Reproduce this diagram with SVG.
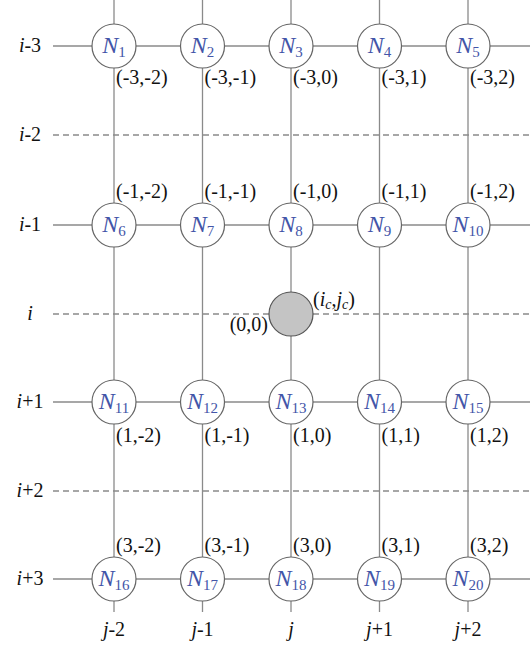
<svg xmlns="http://www.w3.org/2000/svg" width="530" height="650" viewBox="0 0 530 650" font-family="'Liberation Serif', 'Times New Roman', serif">
<style>
.ln{stroke:#8a8a8a;stroke-width:1.3;fill:none}
.dl{stroke:#8a8a8a;stroke-width:1.3;fill:none;stroke-dasharray:6 4}
.nd{fill:#fff;stroke:#666;stroke-width:1.2}
text{font-family:'Liberation Serif','Times New Roman',serif}
.nt{font-size:24px;fill:#4355a8;text-anchor:middle}
.s{font-size:15px;font-style:normal}
.cl{font-size:20px;fill:#111}
.rl{font-size:20px;fill:#111;text-anchor:middle}
.it{font-style:italic}
</style>
<rect width="530" height="650" fill="#fff"/>
<g id="connectors">
<line class="ln" x1="114" y1="0" x2="114" y2="612"/>
<line class="ln" x1="202.5" y1="0" x2="202.5" y2="612"/>
<line class="ln" x1="291" y1="0" x2="291" y2="612"/>
<line class="ln" x1="379.5" y1="0" x2="379.5" y2="612"/>
<line class="ln" x1="468" y1="0" x2="468" y2="612"/>
<line class="ln" x1="53" y1="46" x2="530" y2="46"/>
<line class="ln" x1="53" y1="225" x2="530" y2="225"/>
<line class="ln" x1="53" y1="402" x2="530" y2="402"/>
<line class="ln" x1="53" y1="579" x2="530" y2="579"/>
<line class="dl" x1="53" y1="135" x2="530" y2="135"/>
<line class="dl" x1="53" y1="314" x2="530" y2="314"/>
<line class="dl" x1="53" y1="491" x2="530" y2="491"/>
</g>
<g id="row-labels">
<text class="rl" x="30" y="52"><tspan class="it">i</tspan>-3</text>
<text class="rl" x="30" y="141"><tspan class="it">i</tspan>-2</text>
<text class="rl" x="30" y="231"><tspan class="it">i</tspan>-1</text>
<text class="rl" x="30" y="320"><tspan class="it">i</tspan></text>
<text class="rl" x="30" y="408"><tspan class="it">i</tspan>+1</text>
<text class="rl" x="30" y="497"><tspan class="it">i</tspan>+2</text>
<text class="rl" x="30" y="585"><tspan class="it">i</tspan>+3</text>
</g>
<g id="col-labels">
<text class="rl" x="114" y="636"><tspan class="it">j</tspan>-2</text>
<text class="rl" x="202.5" y="636"><tspan class="it">j</tspan>-1</text>
<text class="rl" x="291" y="636"><tspan class="it">j</tspan></text>
<text class="rl" x="379.5" y="636"><tspan class="it">j</tspan>+1</text>
<text class="rl" x="468" y="636"><tspan class="it">j</tspan>+2</text>
</g>
<g id="N1"><circle class="nd" cx="114" cy="46" r="22"/><text class="nt" x="114" y="53"><tspan class="it">N</tspan><tspan class="s" dy="4">1</tspan></text><text class="cl" x="116" y="84">(-3,-2)</text></g>
<g id="N2"><circle class="nd" cx="202.5" cy="46" r="22"/><text class="nt" x="202.5" y="53"><tspan class="it">N</tspan><tspan class="s" dy="4">2</tspan></text><text class="cl" x="204.5" y="84">(-3,-1)</text></g>
<g id="N3"><circle class="nd" cx="291" cy="46" r="22"/><text class="nt" x="291" y="53"><tspan class="it">N</tspan><tspan class="s" dy="4">3</tspan></text><text class="cl" x="293" y="84">(-3,0)</text></g>
<g id="N4"><circle class="nd" cx="379.5" cy="46" r="22"/><text class="nt" x="379.5" y="53"><tspan class="it">N</tspan><tspan class="s" dy="4">4</tspan></text><text class="cl" x="381.5" y="84">(-3,1)</text></g>
<g id="N5"><circle class="nd" cx="468" cy="46" r="22"/><text class="nt" x="468" y="53"><tspan class="it">N</tspan><tspan class="s" dy="4">5</tspan></text><text class="cl" x="470" y="84">(-3,2)</text></g>
<g id="N6"><circle class="nd" cx="114" cy="225" r="22"/><text class="nt" x="114" y="232"><tspan class="it">N</tspan><tspan class="s" dy="4">6</tspan></text><text class="cl" x="116" y="198">(-1,-2)</text></g>
<g id="N7"><circle class="nd" cx="202.5" cy="225" r="22"/><text class="nt" x="202.5" y="232"><tspan class="it">N</tspan><tspan class="s" dy="4">7</tspan></text><text class="cl" x="204.5" y="198">(-1,-1)</text></g>
<g id="N8"><circle class="nd" cx="291" cy="225" r="22"/><text class="nt" x="291" y="232"><tspan class="it">N</tspan><tspan class="s" dy="4">8</tspan></text><text class="cl" x="293" y="198">(-1,0)</text></g>
<g id="N9"><circle class="nd" cx="379.5" cy="225" r="22"/><text class="nt" x="379.5" y="232"><tspan class="it">N</tspan><tspan class="s" dy="4">9</tspan></text><text class="cl" x="381.5" y="198">(-1,1)</text></g>
<g id="N10"><circle class="nd" cx="468" cy="225" r="22"/><text class="nt" x="468" y="232"><tspan class="it">N</tspan><tspan class="s" dy="4">10</tspan></text><text class="cl" x="470" y="198">(-1,2)</text></g>
<g id="center"><circle cx="291" cy="314" r="22" fill="#c4c4c4" stroke="#555" stroke-width="1.2"/><text class="cl" x="268" y="331" text-anchor="end">(0,0)</text><text class="cl" x="313" y="306">(<tspan class="it">i</tspan><tspan class="it" font-size="14" dy="3">c</tspan><tspan dy="-3">,</tspan><tspan class="it">j</tspan><tspan class="it" font-size="14" dy="3">c</tspan><tspan dy="-3">)</tspan></text></g>
<g id="N11"><circle class="nd" cx="114" cy="402" r="22"/><text class="nt" x="114" y="409"><tspan class="it">N</tspan><tspan class="s" dy="4">11</tspan></text><text class="cl" x="116" y="442">(1,-2)</text></g>
<g id="N12"><circle class="nd" cx="202.5" cy="402" r="22"/><text class="nt" x="202.5" y="409"><tspan class="it">N</tspan><tspan class="s" dy="4">12</tspan></text><text class="cl" x="204.5" y="442">(1,-1)</text></g>
<g id="N13"><circle class="nd" cx="291" cy="402" r="22"/><text class="nt" x="291" y="409"><tspan class="it">N</tspan><tspan class="s" dy="4">13</tspan></text><text class="cl" x="293" y="442">(1,0)</text></g>
<g id="N14"><circle class="nd" cx="379.5" cy="402" r="22"/><text class="nt" x="379.5" y="409"><tspan class="it">N</tspan><tspan class="s" dy="4">14</tspan></text><text class="cl" x="381.5" y="442">(1,1)</text></g>
<g id="N15"><circle class="nd" cx="468" cy="402" r="22"/><text class="nt" x="468" y="409"><tspan class="it">N</tspan><tspan class="s" dy="4">15</tspan></text><text class="cl" x="470" y="442">(1,2)</text></g>
<g id="N16"><circle class="nd" cx="114" cy="579" r="22"/><text class="nt" x="114" y="586"><tspan class="it">N</tspan><tspan class="s" dy="4">16</tspan></text><text class="cl" x="116" y="552">(3,-2)</text></g>
<g id="N17"><circle class="nd" cx="202.5" cy="579" r="22"/><text class="nt" x="202.5" y="586"><tspan class="it">N</tspan><tspan class="s" dy="4">17</tspan></text><text class="cl" x="204.5" y="552">(3,-1)</text></g>
<g id="N18"><circle class="nd" cx="291" cy="579" r="22"/><text class="nt" x="291" y="586"><tspan class="it">N</tspan><tspan class="s" dy="4">18</tspan></text><text class="cl" x="293" y="552">(3,0)</text></g>
<g id="N19"><circle class="nd" cx="379.5" cy="579" r="22"/><text class="nt" x="379.5" y="586"><tspan class="it">N</tspan><tspan class="s" dy="4">19</tspan></text><text class="cl" x="381.5" y="552">(3,1)</text></g>
<g id="N20"><circle class="nd" cx="468" cy="579" r="22"/><text class="nt" x="468" y="586"><tspan class="it">N</tspan><tspan class="s" dy="4">20</tspan></text><text class="cl" x="470" y="552">(3,2)</text></g>
</svg>
